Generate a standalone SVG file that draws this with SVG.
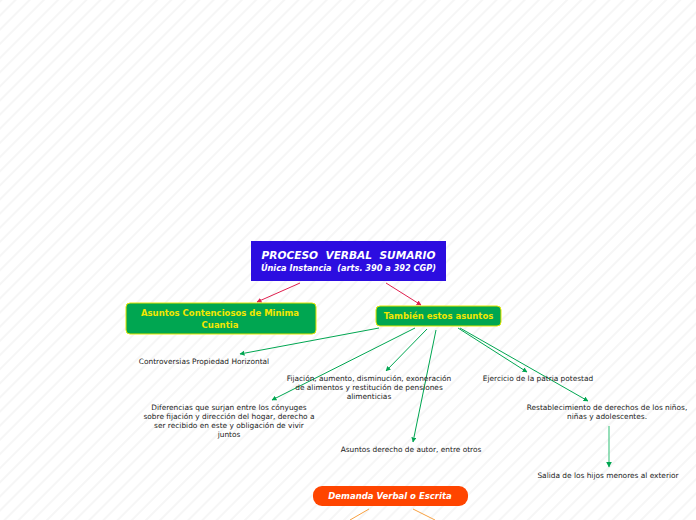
<svg xmlns="http://www.w3.org/2000/svg" width="696" height="520" viewBox="0 0 696 520">
<defs>
<pattern id="stripes" width="10" height="10" patternUnits="userSpaceOnUse" patternTransform="rotate(45)">
<rect width="10" height="10" fill="#ffffff"/>
<rect x="0" y="0" width="2" height="10" fill="#f6f6f6"/>
</pattern>
<marker id="ar" viewBox="0 0 10 10" refX="9" refY="5" markerWidth="5" markerHeight="5" orient="auto"><path d="M0,0 L10,5 L0,10 z" fill="#e0204f"/></marker>
<marker id="ag" viewBox="0 0 10 10" refX="9" refY="5" markerWidth="5" markerHeight="5" orient="auto"><path d="M0,0 L10,5 L0,10 z" fill="#00a651"/></marker>
</defs>
<style>
.lbl{font-family:"DejaVu Sans",Verdana,sans-serif;font-size:7.4px;fill:#222;text-anchor:middle}
.gt{font-family:"DejaVu Sans",Verdana,sans-serif;font-size:8.5px;font-weight:bold;fill:#f2e600;text-anchor:middle}
.wt{font-family:"DejaVu Sans",Verdana,sans-serif;font-weight:bold;font-style:italic;fill:#fff;text-anchor:middle;white-space:pre}
.red{stroke:#e0204f;stroke-width:1;fill:none;marker-end:url(#ar)}
.grn{stroke:#00a651;stroke-width:1;fill:none;marker-end:url(#ag)}
.org{stroke:#f7a040;stroke-width:1;fill:none}
</style>
<rect width="696" height="520" fill="url(#stripes)"/>
<g id="connectors">
<line class="red" x1="300" y1="283" x2="257" y2="302"/>
<line class="red" x1="386" y1="283" x2="421" y2="305"/>
<line class="grn" x1="379" y1="328" x2="240" y2="354"/>
<line class="grn" x1="415" y1="328" x2="272" y2="400"/>
<line class="grn" x1="427" y1="329" x2="386" y2="371"/>
<line class="grn" x1="436" y1="330" x2="413" y2="442"/>
<line class="grn" x1="458" y1="328" x2="527" y2="372"/>
<line class="grn" x1="460" y1="328" x2="588" y2="401"/>
<line x1="609" y1="426" x2="609" y2="467" stroke="#4fc98a" stroke-width="1.2" marker-end="url(#ag)"/>
<line class="org" x1="369" y1="509" x2="350" y2="520"/>
<line class="org" x1="413" y1="509" x2="435" y2="520"/>
</g>
<g id="main">
<rect x="251" y="241" width="195" height="40" fill="#2c0de0"/>
<text class="wt" x="348.5" y="259" font-size="10.6" xml:space="preserve">PROCESO  VERBAL  SUMARIO</text>
<text class="wt" x="348.5" y="271" font-size="8.2" xml:space="preserve">Única Instancia  (arts. 390 a 392 CGP)</text>
</g>
<g id="minima">
<rect x="126" y="303" width="190" height="31" rx="4" fill="#00a651" stroke="#e5e500" stroke-width="1"/>
<text class="gt" x="220" y="316">Asuntos Contenciosos de Minima</text>
<text class="gt" x="220" y="327.5">Cuantia</text>
</g>
<g id="tambien">
<rect x="376" y="306" width="125" height="20" rx="4" fill="#00a651" stroke="#e5e500" stroke-width="1"/>
<text class="gt" x="438.5" y="319">También estos asuntos</text>
</g>
<g id="controversias"><text class="lbl" x="204" y="364">Controversias Propiedad Horizontal</text></g>
<g id="fijacion">
<text class="lbl" x="369" y="381">Fijación, aumento, disminución, exoneración</text>
<text class="lbl" x="369" y="390">de alimentos y restitución de pensiones</text>
<text class="lbl" x="369" y="399">alimenticias</text>
</g>
<g id="ejercicio"><text class="lbl" x="538" y="381">Ejercicio de la patria potestad</text></g>
<g id="diferencias">
<text class="lbl" x="229" y="410">Diferencias que surjan entre los cónyuges</text>
<text class="lbl" x="229" y="419">sobre fijación y dirección del hogar, derecho a</text>
<text class="lbl" x="229" y="428">ser recibido en este y obligación de vivir</text>
<text class="lbl" x="229" y="437">juntos</text>
</g>
<g id="restablecimiento">
<text class="lbl" x="607" y="410">Restablecimiento de derechos de los niños,</text>
<text class="lbl" x="607" y="419">niñas y adolescentes.</text>
</g>
<g id="autor"><text class="lbl" x="411" y="452">Asuntos derecho de autor, entre otros</text></g>
<g id="salida"><text class="lbl" x="608" y="478">Salida de los hijos menores al exterior</text></g>
<g id="demanda">
<rect x="313" y="486" width="155" height="20" rx="9" fill="#ff4500"/>
<text class="wt" x="390" y="499" font-size="8.5">Demanda Verbal o Escrita</text>
</g>
</svg>
